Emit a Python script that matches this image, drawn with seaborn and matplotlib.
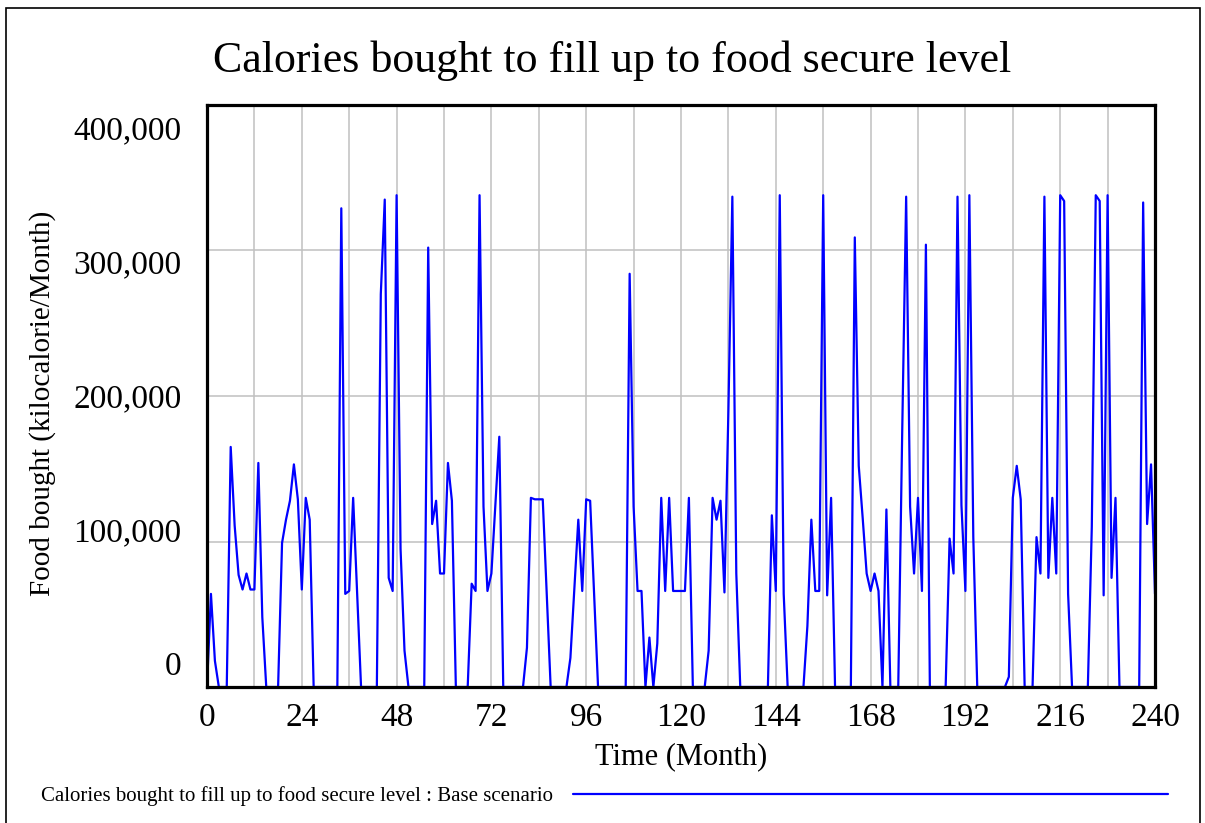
import matplotlib
matplotlib.use("Agg")
import matplotlib.pyplot as plt
import seaborn as sns
import pandas as pd
import numpy as np
from matplotlib.patches import Rectangle

# values, one per month (0..240)
food_bought = [
    0, 64000, 18000, 0, 0, 0, 165000, 111000, 77000, 67000,
    78000, 67000, 67000, 154000, 48000, 0, 0, 0, 0, 99000,
    115000, 128000, 153000, 129000, 67000, 130000, 115000, 0, 0, 0,
    0, 0, 0, 0, 329000, 64000, 66000, 130000, 65000, 0,
    0, 0, 0, 0, 270000, 335000, 75000, 66000, 338000, 95000,
    25000, 0, 0, 0, 0, 0, 302000, 112000, 128000, 78000,
    78000, 154000, 128000, 0, 0, 0, 0, 71000, 66000, 338000,
    124000, 66000, 78000, 125000, 172000, 0, 0, 0, 0, 0,
    0, 27000, 130000, 129000, 129000, 129000, 65000, 0, 0, 0,
    0, 0, 20000, 67000, 115000, 66000, 129000, 128000, 64000, 0,
    0, 0, 0, 0, 0, 0, 0, 284000, 124000, 66000,
    66000, 0, 34000, 0, 30000, 130000, 66000, 130000, 66000, 66000,
    66000, 66000, 130000, 0, 0, 0, 0, 25000, 130000, 115000,
    128000, 65000, 190000, 337000, 78000, 0, 0, 0, 0, 0,
    0, 0, 0, 118000, 66000, 338000, 64000, 0, 0, 0,
    0, 0, 42000, 115000, 66000, 66000, 338000, 63000, 130000, 0,
    0, 0, 0, 0, 309000, 152000, 116000, 78000, 66000, 78000,
    66000, 0, 122000, 0, 0, 0, 175000, 337000, 124000, 78000,
    130000, 66000, 304000, 0, 0, 0, 0, 0, 102000, 78000,
    337000, 125000, 66000, 338000, 103000, 0, 0, 0, 0, 0,
    0, 0, 0, 7000, 130000, 152000, 129000, 0, 0, 0,
    103000, 78000, 337000, 75000, 130000, 78000, 338000, 334000, 64000, 0,
    0, 0, 0, 0, 110000, 338000, 334000, 63000, 338000, 75000,
    130000, 0, 0, 0, 0, 0, 0, 333000, 112000, 153000,
    64000,
]
months = list(range(len(food_bought)))

title = "Calories bought to fill up to food secure level"
series_label = "Calories bought to fill up to food secure level : Base scenario"
x_ticks = [0, 24, 48, 72, 96, 120, 144, 168, 192, 216, 240]
y_ticks = [0, 100000, 200000, 300000, 400000]
y_tick_labels = ["0", "100,000", "200,000", "300,000", "400,000"]

df = pd.DataFrame({"Time": months, "Food": food_bought, "run": series_label})

sns.set_style("white")
plt.rcParams["font.family"] = ["Liberation Serif", "DejaVu Serif"]
plt.rcParams["text.color"] = "black"
plt.rcParams["axes.labelcolor"] = "black"
plt.rcParams["xtick.color"] = "black"
plt.rcParams["ytick.color"] = "black"

W, H = 1205, 823
fig = plt.figure(figsize=(W / 100, H / 100), dpi=100)
ax = fig.add_axes([207 / W, 1 - 687 / H, 948 / W, 582 / H])

sns.lineplot(data=df, x="Time", y="Food", hue="run", palette=["#0000ff"],
             linewidth=1.6, ax=ax, legend=False)

ax.set_xlim(0, 240)
ax.set_ylim(0, 400000)
ax.set_xticks(x_ticks)
ax.set_xticks(range(0, 241, 12), minor=True)
ax.set_xticklabels([str(t) for t in x_ticks], fontsize=24)
ax.set_yticks(y_ticks)
ax.set_yticklabels([])
ax.tick_params(which="both", length=0)
ax.tick_params(axis="x", pad=11)
ax.grid(True, which="both", axis="x", color="#c0c0c0", linewidth=1.1)
ax.grid(True, which="major", axis="y", color="#c0c0c0", linewidth=1.1)
ax.set_axisbelow(True)
for s in ax.spines.values():
    s.set_visible(True)
    s.set_linewidth(2.3)
    s.set_color("black")

# Vensim spreads the y labels slightly inside the axis range
for i, lab in enumerate(y_tick_labels):
    ax.text(-0.027, 0.035 + i * 0.2302, lab, transform=ax.transAxes,
            ha="right", va="center", fontsize=24)

ax.set_xlabel("Time (Month)", fontsize=22, labelpad=7)
ax.set_ylabel("Food bought (kilocalorie/Month)", fontsize=21)
ax.yaxis.set_label_coords(-0.159, 0.487)

fig.text(612 / W, 1 - 61 / H, title, ha="center", va="center", fontsize=31.7)

handles = ax.get_lines()[:1]
fig.legend(handles, [series_label], loc="center left",
           bbox_to_anchor=(22 / W, 1 - 796 / H), frameon=False,
           markerfirst=False, handlelength=28.6, handletextpad=0.95,
           fontsize=15)

fig.add_artist(Rectangle((6 / W, -0.05), 1194 / W, 1 - 8 / H + 0.05,
                         transform=fig.transFigure, fill=False,
                         edgecolor="black", linewidth=1.2))

fig.savefig("out.png", dpi=100)
